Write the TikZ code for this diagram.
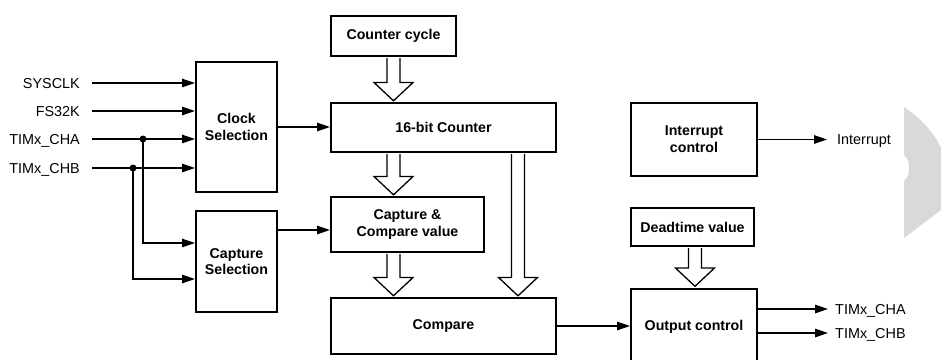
\documentclass[tikz,border=0pt]{standalone}
\usepackage{fontspec}
\setmainfont{Liberation Sans}
\usetikzlibrary{arrows.meta,calc}
\newcommand\hollowarrow[2]{\draw[hollow] let \p1=#1, \p2=#2 in
  (\x1-6.5pt,\y1-1.2pt) -- (\x1-6.5pt,\y2+19.5pt) -- (\x1-19.5pt,\y2+19.5pt) --
  (\x1,\y2+1.2pt) -- (\x1+19.5pt,\y2+19.5pt) -- (\x1+6.5pt,\y2+19.5pt) -- (\x1+6.5pt,\y1-1.2pt);}
\begin{document}
\begin{tikzpicture}[x=1pt,y=1pt,
  box/.style={draw, line width=2.4pt, inner sep=0pt, align=center,
    font=\fontsize{14.2}{16.7}\selectfont\bfseries},
  lbl/.style={inner sep=0pt, text height=10.3pt, text depth=0pt,
    font=\fontsize{14.4}{17}\selectfont},
  sig/.style={line width=1.3pt, -{Triangle[length=13pt,width=8.5pt]}},
  wire/.style={line width=1.3pt},
  hollow/.style={draw, line width=1.3pt, fill=white, line join=miter},
  dot/.style={circle, fill, inner sep=0pt, minimum size=7pt}
]
\useasboundingbox (0,0) rectangle (941,-359);
\clip (0,0) rectangle (941,-359);

% decorative grey shape at right edge
\fill[black!15] (904,-107) .. controls (920,-118) and (934,-132) .. (941,-148)
  -- (941,-210) -- (904,-238) -- (904,-181)
  .. controls (911,-176) and (911,-160) .. (904,-155) -- cycle;

% boxes
\node[box, minimum width=80.6pt, minimum height=129.6pt] (clk) at (236.5,-127) {Clock\\Selection};
\node[box, minimum width=80.6pt, minimum height=100.6pt] (capsel) at (236.5,-261.5) {Capture\\Selection};
\node[box, minimum width=124.6pt, minimum height=39.6pt] (cyc) at (393.5,-36) {Counter cycle};
\node[box, minimum width=224.6pt, minimum height=48.6pt] (ctr) at (443.5,-127.5) {16-bit Counter};
\node[box, minimum width=152.6pt, minimum height=54.6pt] (ccv) at (407.5,-224.5) {Capture \&\\Compare value};
\node[box, minimum width=224.6pt, minimum height=55.6pt] (cmp) at (443.5,-326) {Compare};
\node[box, minimum width=125.6pt, minimum height=72.6pt] (irq) at (694,-139.5) {Interrupt\\control};
\node[box, minimum width=122.6pt, minimum height=37.6pt] (dead) at (692.5,-227) {Deadtime value};
\node[box, minimum width=125.6pt, minimum height=76.6pt] (out) at (694,-327) {Output control};

% hollow bus arrows
\hollowarrow{(cyc.south)}{(ctr.north)}
\hollowarrow{(ctr.south -| cyc.south)}{(ccv.north)}
\hollowarrow{(ccv.south -| cyc.south)}{(cmp.north)}
\hollowarrow{([xshift=74.5pt]ctr.south)}{(cmp.north)}
\hollowarrow{([xshift=2.5pt]dead.south)}{(out.north)}

% input labels and lines
\node[lbl, anchor=east] (sys) at (80,-83) {SYSCLK};
\node[lbl, anchor=east] (fs) at (80,-111) {FS32K};
\node[lbl, anchor=east] (cha) at (80,-139) {TIMx\_CHA};
\node[lbl, anchor=east] (chb) at (80,-168) {TIMx\_CHB};
\draw[sig] ([xshift=12pt]sys.east) -- (sys.east -| clk.west);
\draw[sig] ([xshift=12pt]fs.east) -- (fs.east -| clk.west);
\draw[sig] ([xshift=12pt]cha.east) -- (cha.east -| clk.west);
\draw[sig] ([xshift=12pt]chb.east) -- (chb.east -| clk.west);
\node[dot] (dA) at (143,-139) {};
\node[dot] (dB) at (133,-168) {};
\draw[sig] (dA.center) |- ([yshift=18.5pt]capsel.west);
\draw[sig] (dB.center) |- ([yshift=-17.5pt]capsel.west);

% internal connections
\draw[sig] (clk.east) -- (clk.east -| ctr.west);
\draw[sig] ([yshift=31.5pt]capsel.east) -- ([yshift=31.5pt]capsel.east -| ccv.west);
\draw[sig] (cmp.east) -- (cmp.east -| out.west);

% outputs
\coordinate (irqEnd) at (827,-139.5);
\draw[sig] (irq.east) -- (irqEnd);
\node[lbl, anchor=west] (irqL) at (837,-139.5) {Interrupt};
\coordinate (oA) at (828,-309);
\coordinate (oB) at (828,-333);
\draw[sig] (out.east |- oA) -- (oA);
\draw[sig] (out.east |- oB) -- (oB);
\node[lbl, anchor=west] (oAL) at (835,-309) {TIMx\_CHA};
\node[lbl, anchor=west] (oBL) at (835,-333) {TIMx\_CHB};
\end{tikzpicture}
\end{document}
